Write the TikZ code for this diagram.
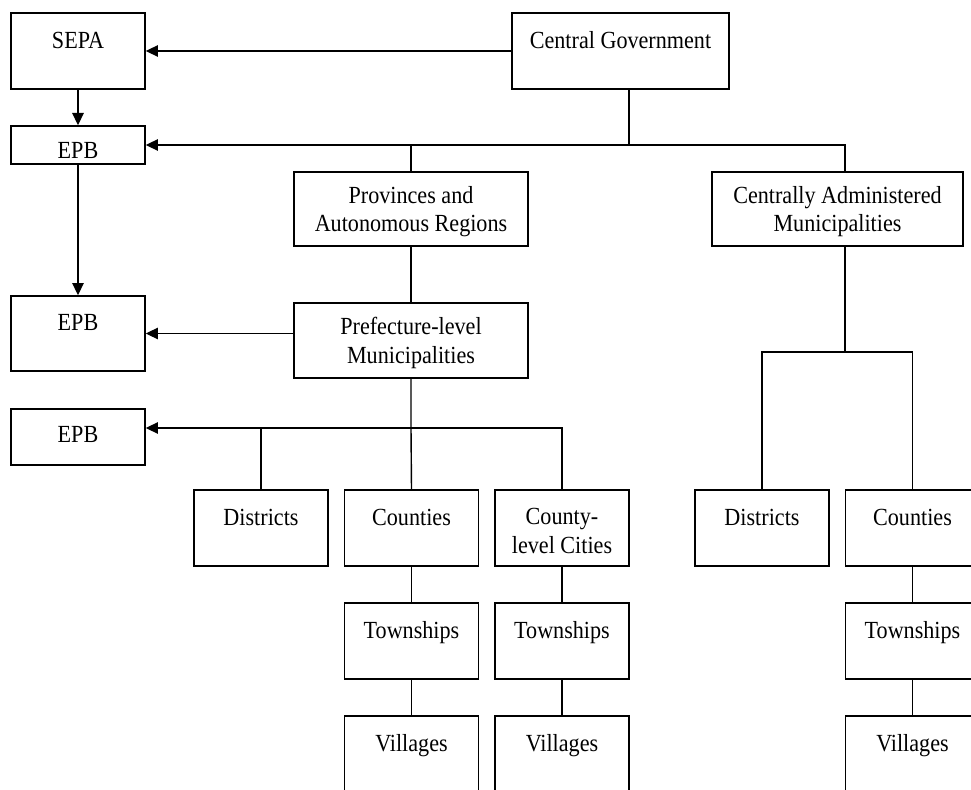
\documentclass[tikz,border=0pt]{standalone}
\usepackage{fontspec}
\setmainfont{Liberation Serif}[FakeStretch=0.9]
\usepackage{tikz}
\usetikzlibrary{arrows.meta}
\tikzset{
  unit/.style={draw, thick, inner sep=0pt, align=center,
    font=\fontsize{14pt}{16pt}\selectfont, text height=28.7pt},
  small/.style={unit, minimum width=2.68cm, minimum height=1.52cm},
  wide/.style={unit, minimum width=4.68cm, minimum height=1.50cm},
  link/.style={thick},
  arrow/.style={thick, -{Triangle[length=7pt, width=6.5pt]}}
}
\begin{document}
\begin{tikzpicture}[x=0.02cm, y=-0.02cm]
		\useasboundingbox (0,0) rectangle (971,790);
		\clip (0,0) rectangle (971,790);
		\node[small] (sepa) at (78,51) {SEPA\\~};
		\node[unit, minimum width=4.34cm, minimum height=1.52cm] (cg) at (620.5,51) {Central Government\\~};
		\node[unit, minimum width=2.68cm, minimum height=0.76cm, text height=15.2pt] (epbA) at (78,145) {EPB};
		\node[wide, minimum height=1.48cm] (prov) at (411,209) {Provinces and\\Autonomous Regions};
		\node[unit, minimum width=5.02cm, minimum height=1.48cm] (cam) at (837.5,209) {Centrally Administered\\Municipalities};
		\node[small, minimum height=1.50cm] (epbB) at (78,333.5) {EPB\\~};
		\node[wide] (pref) at (411,340.5) {Prefecture-level\\Municipalities};
		\node[unit, minimum width=2.68cm, minimum height=1.12cm, text height=6.1pt] (epbC) at (78,437) {EPB};
		\node[small] (distL) at (261,528) {Districts\\~};
		\node[small] (cnty) at (411.5,528) {Counties\\~};
		\node[small] (ccity) at (562,528) {County-\\level Cities};
		\node[small] (twpA) at (411.5,641) {Townships\\~};
		\node[small] (twpB) at (562,641) {Townships\\~};
		\node[small] (vilA) at (411.5,754) {Villages\\~};
		\node[small] (vilB) at (562,754) {Villages\\~};
		\node[small] (distR) at (762,528) {Districts\\~};
		\node[small] (cntyR) at (912.5,528) {Counties\\~};
		\node[small] (twpR) at (912.5,641) {Townships\\~};
		\node[small] (vilR) at (912.5,754) {Villages\\~};
		\coordinate (cgj) at (629,145);
		\coordinate (camj) at (845,352);
		\coordinate (prefj) at (411,428);
		\draw[arrow] (cg.west) -- (sepa.east);
		\draw[arrow] (sepa.south) -- (epbA.north);
		\draw[arrow] (epbA.south) -- (epbB.north);
		\draw[link] (cg.south -| cgj) -- (cgj) -- (cgj -| camj) -- (cam.north -| camj);
		\draw[arrow] (cgj) -- (epbA.east);
		\draw[link] (prov.north |- cgj) -- (prov.north);
		\draw[link] (prov.south) -- (pref.north);
		\draw[arrow] (pref.west |- epbB.east) -- (epbB.east);
		\draw[link] (pref.south) -- (prefj) -- (cnty.north);
		\draw[link] (distL.north) |- (ccity.north |- prefj) -- (ccity.north);
		\draw[arrow] (distL.north |- prefj) -- (epbC.east |- prefj);
		\draw[link] (cam.south -| camj) -- (camj);
		\draw[link] (distR.north) |- (camj) -| (cntyR.north);
		\foreach \a/\b in {cnty/twpA, twpA/vilA, ccity/twpB, twpB/vilB, cntyR/twpR, twpR/vilR}
			\draw[link] (\a.south) -- (\b.north);
	\end{tikzpicture}
\end{document}
